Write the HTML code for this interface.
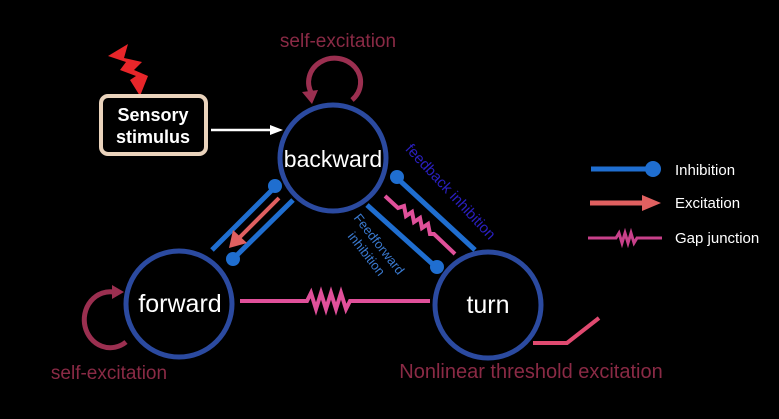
<!DOCTYPE html>
<html><head><style>body{margin:0;background:#000}svg{display:block}</style></head><body>
<svg width="779" height="419" viewBox="0 0 779 419" xmlns="http://www.w3.org/2000/svg" font-family="Liberation Sans, sans-serif">
<rect width="779" height="419" fill="#000"/>
<!-- lightning -->
<path d="M108,56 L128,44 L124,58 L142,62 L134,70 L148,76 L140,96 L130,80 L136,76 L120,70 L126,62 Z" fill="#e8262a"/>
<!-- sensory box -->
<rect x="101" y="96" width="105" height="58" rx="7" fill="#000" stroke="#ead3bc" stroke-width="4"/>
<text x="153" y="121" fill="#fff" font-size="18" font-weight="bold" text-anchor="middle">Sensory</text>
<text x="153" y="143" fill="#fff" font-size="18" font-weight="bold" text-anchor="middle">stimulus</text>
<line x1="211" y1="130" x2="272" y2="130" stroke="#fff" stroke-width="2.5"/>
<path d="M270,125 L283,130 L270,135 Z" fill="#fff"/>
<!-- self loops -->
<path d="M312,94 A26,24 0 1 1 352,100" fill="none" stroke="#9b2f50" stroke-width="5"/>
<path d="M302,92 L318,90 L312,104 Z" fill="#9b2f50"/>
<text x="338" y="47" fill="#8a2a45" font-size="19" text-anchor="middle">self-excitation</text>
<path d="M126,342 A26,28 0 1 1 114,292" fill="none" stroke="#9b2f50" stroke-width="5"/>
<path d="M112,285 L124,292 L112,299 Z" fill="#9b2f50"/>
<text x="109" y="379" fill="#8a2a45" font-size="19" text-anchor="middle">self-excitation</text>
<!-- left pair -->
<line x1="212" y1="250" x2="277" y2="185" stroke="#1f6ed0" stroke-width="5"/>
<circle cx="275" cy="186" r="7" fill="#1f6ed0"/>
<line x1="293" y1="200" x2="230" y2="262" stroke="#1f6ed0" stroke-width="5"/>
<circle cx="233" cy="259" r="7" fill="#1f6ed0"/>
<line x1="279" y1="198" x2="238" y2="239" stroke="#e06060" stroke-width="4"/>
<path d="M229,248 L233,230 L247,243 Z" fill="#e06060"/>
<!-- right pair -->
<line x1="397" y1="178" x2="475" y2="250" stroke="#1f6ed0" stroke-width="5"/>
<circle cx="397" cy="177" r="7" fill="#1f6ed0"/>
<line x1="367" y1="205" x2="437" y2="268" stroke="#1f6ed0" stroke-width="5"/>
<circle cx="437" cy="267" r="7" fill="#1f6ed0"/>
<polyline points="385,196 398,208 404,206 406,216 412,212 414,222 420,218 422,228 428,224 430,234 434,234 455,254" fill="none" stroke="#e0509a" stroke-width="4"/>
<!-- horizontal gap -->
<polyline points="240,301 307,301 311,293 316,309 321,293 326,309 331,293 336,309 341,293 346,309 350,301 430,301" fill="none" stroke="#e0509a" stroke-width="4"/>
<!-- nonlinear -->
<polyline points="533,343 567,343 599,318" fill="none" stroke="#e04a70" stroke-width="4"/>
<text x="531" y="378" fill="#8a2a45" font-size="20" text-anchor="middle">Nonlinear threshold excitation</text>
<!-- circles -->
<circle cx="333" cy="158" r="53" fill="#000" stroke="#2b4aa0" stroke-width="5"/>
<text x="333" y="167" fill="#fff" font-size="23" text-anchor="middle">backward</text>
<circle cx="179" cy="304" r="53" fill="#000" stroke="#2b4aa0" stroke-width="5"/>
<text x="180" y="312" fill="#fff" font-size="25" text-anchor="middle">forward</text>
<circle cx="488" cy="305" r="53" fill="#000" stroke="#2b4aa0" stroke-width="5"/>
<text x="488" y="313" fill="#fff" font-size="25" text-anchor="middle">turn</text>
<!-- rotated labels -->
<text transform="translate(447,195) rotate(47)" fill="#2a1fc0" font-size="15" text-anchor="middle">feedback inhibition</text>
<g transform="translate(374,248) rotate(52)" fill="#3a7ad0" font-size="13" text-anchor="middle"><text x="0" y="-2">Feedforward</text><text x="0" y="14">inhibition</text></g>
<!-- legend -->
<line x1="591" y1="169" x2="650" y2="169" stroke="#1f6ed0" stroke-width="5"/>
<circle cx="653" cy="169" r="8" fill="#1f6ed0"/>
<text x="675" y="175" fill="#fff" font-size="15">Inhibition</text>
<line x1="590" y1="203" x2="644" y2="203" stroke="#e06060" stroke-width="5"/>
<path d="M642,195 L661,203 L642,211 Z" fill="#e06060"/>
<text x="675" y="208" fill="#fff" font-size="15">Excitation</text>
<polyline points="588,238 616,238 619,233 622,243 625,233 628,243 631,233 634,243 637,238 662,238" fill="none" stroke="#c8408a" stroke-width="3"/>
<text x="675" y="243" fill="#fff" font-size="15">Gap junction</text>
</svg>
</body></html>
